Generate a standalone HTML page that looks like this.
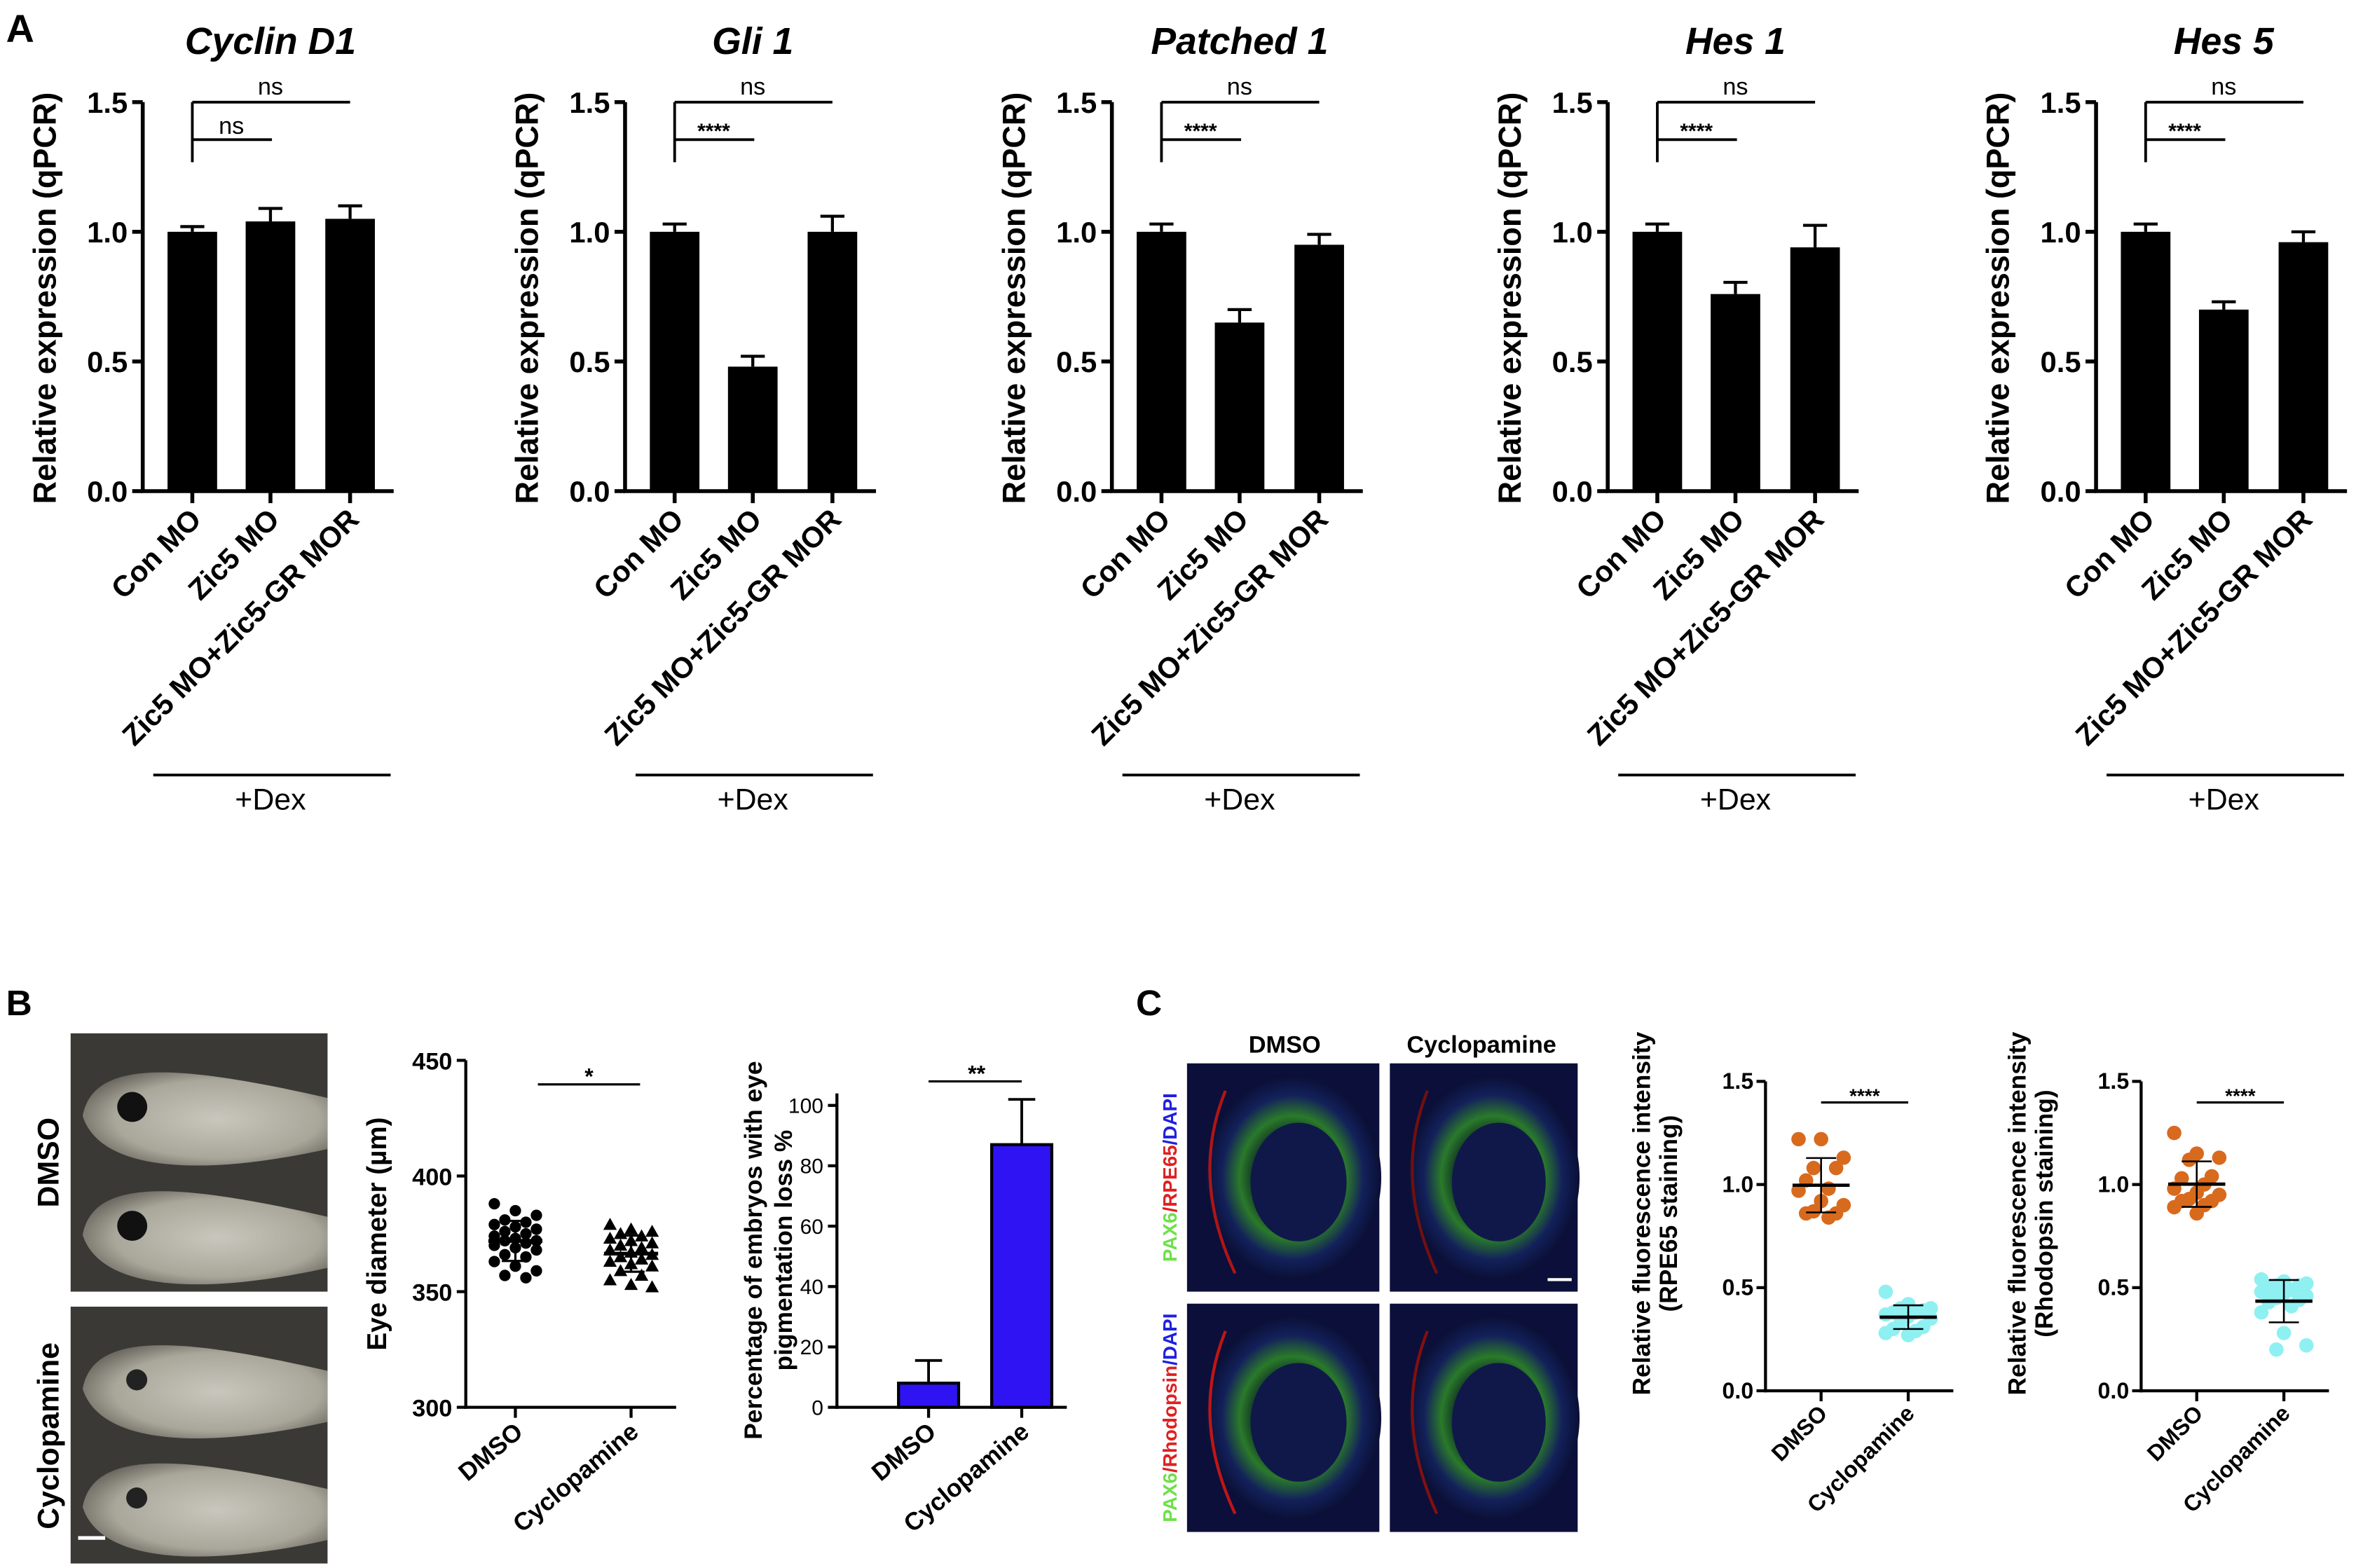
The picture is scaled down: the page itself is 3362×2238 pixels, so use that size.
<!DOCTYPE html>
<html><head><meta charset="utf-8"><style>
html,body{margin:0;padding:0;background:#fff;}
svg{display:block;}
text{font-family:"Liberation Sans",Arial,sans-serif;font-weight:bold;}
</style></head><body>
<svg id="fig" width="3362" height="2238" viewBox="0 0 1568 1044" preserveAspectRatio="none" xmlns="http://www.w3.org/2000/svg">
<defs>
<radialGradient id="tad" cx="0.55" cy="0.5" r="0.6"><stop offset="0" stop-color="#c9c7bd"/><stop offset="0.7" stop-color="#a9a69a"/><stop offset="1" stop-color="#6a675f"/></radialGradient>
<radialGradient id="eyeG" cx="0.5" cy="0.5" r="0.5"><stop offset="0" stop-color="#1a2a6a"/><stop offset="0.45" stop-color="#143a26"/><stop offset="0.6" stop-color="#2a7a2a"/><stop offset="0.8" stop-color="#13215a"/><stop offset="1" stop-color="#0a0f35"/></radialGradient>
</defs>
<text x="4" y="28" font-size="26">A</text>
<text x="4" y="676" font-size="24">B</text>
<text x="756" y="676" font-size="24">C</text>
<g id="panelA"></g>
<g id="panelB"></g>
<g id="panelC"></g>
</svg>
<script>
const NS="http://www.w3.org/2000/svg";
// Panel A data
const geneTitles=["Cyclin D1","Gli 1","Patched 1","Hes 1","Hes 5"];
const groupLabels=["Con MO","Zic5 MO","Zic5 MO+Zic5-GR MOR"];
const meanCyclin=[1.0,1.04,1.05];
const meanGli=[1.0,0.48,1.0];
const meanPatched=[1.0,0.65,0.95];
const meanHes1=[1.0,0.76,0.94];
const meanHes5=[1.0,0.70,0.96];
const errCyclin=[0.02,0.05,0.05];
const errGli=[0.03,0.04,0.06];
const errPatched=[0.03,0.05,0.04];
const errHes1=[0.03,0.045,0.085];
const errHes5=[0.03,0.03,0.04];
const sigLower=["ns","****","****","****","****"];
const sigUpper=["ns","ns","ns","ns","ns"];
const yTicksA=[0,0.5,1.0,1.5];
// Panel B data
const eyeCats=["DMSO","Cyclopamine"];
const eyeDMSO=[388,385,383,381,380,379,378,377,376,375,374,373,372,372,371,370,369,368,366,365,363,361,359,357,356];
const eyeCyclo=[379,377,376,375,374,373,372,371,370,369,368,367,366,365,364,363,362,361,359,357,355,353,352];
const eyeTicks=[300,350,400,450];
const pigCats=["DMSO","Cyclopamine"];
const pigMean=[8,87];
const pigErr=[7.5,15];
const pigTicks=[0,20,40,60,80,100];
// Panel C data
const fluCats=["DMSO","Cyclopamine"];
const rpeDMSO=[1.22,1.22,1.13,1.08,1.08,1.02,0.98,0.97,0.92,0.90,0.87,0.86,0.86,0.84];
const rpeCyclo=[0.48,0.42,0.40,0.40,0.39,0.38,0.38,0.37,0.36,0.35,0.33,0.31,0.30,0.29,0.28,0.27];
const rhoDMSO=[1.25,1.15,1.13,1.12,1.04,1.03,1.00,0.98,0.96,0.95,0.93,0.92,0.92,0.90,0.89,0.86];
const rhoCyclo=[0.54,0.53,0.52,0.51,0.51,0.50,0.49,0.48,0.47,0.46,0.45,0.44,0.43,0.41,0.38,0.28,0.22,0.20];
const fluTicks=[0,0.5,1.0,1.5];

function el(tag,attrs,parent,txt){const e=document.createElementNS(NS,tag);for(const k in attrs)e.setAttribute(k,attrs[k]);if(txt!==undefined)e.textContent=txt;parent.appendChild(e);return e;}
function mean(a){return a.reduce((s,v)=>s+v,0)/a.length;}
function sd(a){const m=mean(a);return Math.sqrt(a.reduce((s,v)=>s+(v-m)*(v-m),0)/(a.length-1));}

// ---------- Panel A ----------
const A=document.getElementById('panelA');
const meansA=[meanCyclin,meanGli,meanPatched,meanHes1,meanHes5];
const errsA=[errCyclin,errGli,errPatched,errHes1,errHes5];
const offs=[0,321,645,975,1300];
geneTitles.forEach((t,i)=>{
  const g=el('g',{transform:`translate(${offs[i]},0)`},A);
  
  
  const ax=95, y0=327, y15=68, xs=[128,180,233];
  const y=v=>y0-(v/1.5)*(y0-y15);
  const tt=el('text',{x:180,y:36,'font-size':25,'font-style':'italic','text-anchor':'middle'},g,t);
  
  
  el('line',{x1:ax,y1:y15,x2:ax,y2:y0+1.2,stroke:'#000','stroke-width':2.6},g);
  el('line',{x1:ax-1.2,y1:y0,x2:262,y2:y0,stroke:'#000','stroke-width':2.6},g);
  yTicksA.forEach(v=>{
    el('line',{x1:ax-7,y1:y(v),x2:ax,y2:y(v),stroke:'#000','stroke-width':2.6},g);
    const tl=el('text',{x:ax-10,y:y(v)+7,'font-size':19.5,'text-anchor':'end'},g,v.toFixed(1));
    
    
  });
  const yt=el('text',{x:0,y:0,'font-size':21,'text-anchor':'middle',transform:`translate(37,${(y0+y15)/2+1}) rotate(-90)`},g,'Relative expression (qPCR)');
  
  
  xs.forEach((x,j)=>{
    const v=meansA[i][j], e=errsA[i][j];
    el('line',{x1:x,y1:y(v),x2:x,y2:y(v+e),stroke:'#000','stroke-width':2},g);
    el('line',{x1:x-8,y1:y(v+e),x2:x+8,y2:y(v+e),stroke:'#000','stroke-width':2},g);
    const b=el('rect',{x:x-16.5,y:y(v),width:33,height:y0-y(v),fill:'#000'},g);
    
    
    el('line',{x1:x,y1:y0,x2:x,y2:y0+8,stroke:'#000','stroke-width':2.6},g);
    const xl=el('text',{x:0,y:0,'font-size':19.5,'text-anchor':'end',transform:`translate(${x+7},${y0+20}) rotate(-45)`},g,groupLabels[j]);
    
    
  });
  el('line',{x1:128,y1:y15,x2:233,y2:y15,stroke:'#000','stroke-width':1.8},g);
  el('line',{x1:128,y1:y15,x2:128,y2:108,stroke:'#000','stroke-width':1.8},g);
  el('line',{x1:128,y1:93,x2:181,y2:93,stroke:'#000','stroke-width':1.8},g);
  const su=el('text',{x:180,y:63,'font-size':16,'text-anchor':'middle',style:'font-weight:normal'},g,sigUpper[i]);
  
  
  const sl=el('text',{x:154,y:sigLower[i]==='ns'?89:92,'font-size':sigLower[i]==='ns'?16:14,'text-anchor':'middle',style:sigLower[i]==='ns'?'font-weight:normal':''},g,sigLower[i]);
  
  
  el('line',{x1:102,y1:516,x2:260,y2:516,stroke:'#000','stroke-width':1.8},g);
  const dx=el('text',{x:180,y:539,'font-size':20,'text-anchor':'middle',style:'font-weight:normal'},g,'+Dex');
  
  
});

// ---------- Panel B ----------
const B=document.getElementById('panelB');
function tadpole(x,y,w,h,name){
  const g=el('g',{},B);
  
  
  el('rect',{x,y,width:w,height:h,fill:'#3a3935'},g);
  [[0.32],[0.78]].forEach(([fy])=>{
    el('path',{d:`M${x+8} ${y+h*fy} C ${x+15} ${y+h*fy-38}, ${x+70} ${y+h*fy-35}, ${x+w} ${y+h*fy-12} L ${x+w} ${y+h*fy+22} C ${x+90} ${y+h*fy+40}, ${x+20} ${y+h*fy+38}, ${x+8} ${y+h*fy}Z`,fill:'url(#tad)'},g);
  });
  return g;
}
const t1=tadpole(47,688,171,172,'dmso-embryo-image');
el('circle',{cx:88,cy:688+172*0.32-6,r:10,fill:'#111'},t1);
el('circle',{cx:88,cy:688+172*0.78-6,r:10,fill:'#111'},t1);
const t2=tadpole(47,870,171,171,'cyclopamine-embryo-image');
el('circle',{cx:91,cy:870+171*0.32-6,r:7,fill:'#222'},t2);
el('circle',{cx:91,cy:870+171*0.78-6,r:7,fill:'#222'},t2);
el('line',{x1:52,y1:1024,x2:70,y2:1024,stroke:'#fff','stroke-width':2.5},B);
let tx=el('text',{x:0,y:0,'font-size':20,'text-anchor':'middle',transform:'translate(39,774) rotate(-90)'},B,'DMSO');


tx=el('text',{x:0,y:0,'font-size':20,'text-anchor':'middle',transform:'translate(39,956) rotate(-90)'},B,'Cyclopamine');



// eye diameter scatter
(function(){
  const g=el('g',{},B);
  
  
  const ax=310,y0=937,yT=706,xs=[343,420];
  const y=v=>y0-(v-300)/150*(y0-yT);
  el('line',{x1:ax,y1:yT,x2:ax,y2:y0+1,stroke:'#000','stroke-width':2},g);
  el('line',{x1:ax-1,y1:y0,x2:450,y2:y0,stroke:'#000','stroke-width':2},g);
  eyeTicks.forEach(v=>{
    el('line',{x1:ax-6,y1:y(v),x2:ax,y2:y(v),stroke:'#000','stroke-width':2},g);
    const tl=el('text',{x:ax-9,y:y(v)+6,'font-size':16,'text-anchor':'end'},g,String(v));
    
    
  });
  const yt=el('text',{x:0,y:0,'font-size':18,'text-anchor':'middle',transform:`translate(257,${(y0+yT)/2}) rotate(-90)`},g,'Eye diameter (µm)');
  
  
  [eyeDMSO,eyeCyclo].forEach((arr,j)=>{
    const cx=xs[j];
    arr.forEach((v,k)=>{
      const dx=((k*7)%5-2)*7;
      let p;
      if(j===0) p=el('circle',{cx:cx+dx,cy:y(v),r:3.8,fill:'#000'},g);
      else p=el('path',{d:`M${cx+dx} ${y(v)-4.5} l4.5 8 h-9Z`,fill:'#000'},g);
      
      
    });
    const m=mean(arr),s=sd(arr);
    el('line',{x1:cx-18,y1:y(m),x2:cx+18,y2:y(m),stroke:'#000','stroke-width':2.5},g);
    el('line',{x1:cx,y1:y(m-s),x2:cx,y2:y(m+s),stroke:'#000','stroke-width':1.5},g);
    el('line',{x1:cx-9,y1:y(m+s),x2:cx+9,y2:y(m+s),stroke:'#000','stroke-width':1.5},g);
    el('line',{x1:cx-9,y1:y(m-s),x2:cx+9,y2:y(m-s),stroke:'#000','stroke-width':1.5},g);
    el('line',{x1:cx,y1:y0,x2:cx,y2:y0+7,stroke:'#000','stroke-width':2},g);
    const xl=el('text',{x:0,y:0,'font-size':16.5,'text-anchor':'end',transform:`translate(${cx+6},${y0+18}) rotate(-40)`},g,eyeCats[j]);
    
    
  });
  el('line',{x1:358,y1:722,x2:426,y2:722,stroke:'#000','stroke-width':1.5},g);
  const s=el('text',{x:392,y:722,'font-size':15,'text-anchor':'middle'},g,'*');
  
  
})();

// pigmentation bar chart
(function(){
  const g=el('g',{},B);
  
  
  const ax=557,y0=937,yT=736,xs=[618,680];
  const y=v=>y0-v/100*(y0-yT);
  pigCats.forEach((c,j)=>{
    const cx=xs[j],v=pigMean[j],e=pigErr[j];
    el('line',{x1:cx,y1:y(v),x2:cx,y2:y(v+e),stroke:'#000','stroke-width':1.8},g);
    el('line',{x1:cx-9,y1:y(v+e),x2:cx+9,y2:y(v+e),stroke:'#000','stroke-width':1.8},g);
    const b=el('rect',{x:cx-20,y:y(v),width:40,height:y0-y(v),fill:'#2f13f2',stroke:'#000','stroke-width':2},g);
    
    
    el('line',{x1:cx,y1:y0,x2:cx,y2:y0+7,stroke:'#000','stroke-width':2},g);
    const xl=el('text',{x:0,y:0,'font-size':16.5,'text-anchor':'end',transform:`translate(${cx+6},${y0+18}) rotate(-40)`},g,c);
    
    
  });
  el('line',{x1:ax,y1:728,x2:ax,y2:y0+1,stroke:'#000','stroke-width':2},g);
  el('line',{x1:ax-1,y1:y0,x2:710,y2:y0,stroke:'#000','stroke-width':2},g);
  pigTicks.forEach(v=>{
    el('line',{x1:ax-6,y1:y(v),x2:ax,y2:y(v),stroke:'#000','stroke-width':2},g);
    const tl=el('text',{x:ax-9,y:y(v)+5,'font-size':14,'text-anchor':'end',style:'font-weight:normal'},g,String(v));
    
    
  });
  let t=el('text',{x:0,y:0,'font-size':16.5,'text-anchor':'middle',transform:`translate(507,${(y0+728)/2}) rotate(-90)`},g,'Percentage of embryos with eye');
  
  
  t=el('text',{x:0,y:0,'font-size':16.5,'text-anchor':'middle',transform:`translate(527,${(y0+728)/2}) rotate(-90)`},g,'pigmentation loss %');
  
  
  el('line',{x1:618,y1:720,x2:680,y2:720,stroke:'#000','stroke-width':1.5},g);
  const s=el('text',{x:650,y:720,'font-size':15,'text-anchor':'middle'},g,'**');
  
  
})();

// ---------- Panel C ----------
const C=document.getElementById('panelC');
function micro(x,y,w,h,name,red){
  const g=el('g',{},C);
  
  
  el('rect',{x,y,width:w,height:h,fill:'#0b0f3a'},g);
  el('ellipse',{cx:x+w*0.55,cy:y+h*0.5,rx:w*0.46,ry:h*0.45,fill:'url(#eyeG)'},g);
  el('ellipse',{cx:x+w*0.58,cy:y+h*0.52,rx:w*0.25,ry:h*0.26,fill:'#10184a'},g);
  el('path',{d:`M${x+w*0.2} ${y+h*0.12} Q ${x+2} ${y+h*0.5} ${x+w*0.25} ${y+h*0.92}`,stroke:red,'stroke-width':2,fill:'none'},g);
}
micro(790,708,128,152,'image-dmso-rpe65','#b01515');
micro(925,708,125,152,'image-cyclopamine-rpe65','#701010');
micro(790,868,128,152,'image-dmso-rhodopsin','#c01515');
micro(925,868,125,152,'image-cyclopamine-rhodopsin','#801010');
el('line',{x1:1030,y1:852,x2:1046,y2:852,stroke:'#fff','stroke-width':2},C);
tx=el('text',{x:855,y:701,'font-size':16,'text-anchor':'middle'},C,'DMSO');


tx=el('text',{x:986,y:701,'font-size':16,'text-anchor':'middle'},C,'Cyclopamine');


function stainLabel(cy,mid,name){
  const t=el('text',{x:0,y:0,'font-size':13,'text-anchor':'middle',transform:`translate(783,${cy}) rotate(-90)`},C);
  
  
  el('tspan',{fill:'#6fe04a'},t,'PAX6');
  el('tspan',{fill:'#e02020'},t,'/'+mid);
  el('tspan',{fill:'#2020e0'},t,'/DAPI');
}
stainLabel(784,'RPE65','stain-label-rpe65');
stainLabel(944,'Rhodopsin','stain-label-rhodopsin');

function fluChart(ax,d1,d2,line2,name){
  const g=el('g',{},C);
  
  
  const y0=926,yT=720,xs=[ax+37,ax+95];
  const y=v=>y0-v/1.5*(y0-yT);
  el('line',{x1:ax,y1:yT,x2:ax,y2:y0+1,stroke:'#000','stroke-width':2},g);
  el('line',{x1:ax-1,y1:y0,x2:ax+125,y2:y0,stroke:'#000','stroke-width':2},g);
  fluTicks.forEach(v=>{
    el('line',{x1:ax-6,y1:y(v),x2:ax,y2:y(v),stroke:'#000','stroke-width':2},g);
    const tl=el('text',{x:ax-8,y:y(v)+5,'font-size':15,'text-anchor':'end'},g,v.toFixed(1));
    
    
  });
  let t=el('text',{x:0,y:0,'font-size':16.5,'text-anchor':'middle',transform:`translate(${ax-77},808) rotate(-90)`},g,'Relative fluorescence intensity');
  
  
  t=el('text',{x:0,y:0,'font-size':16.5,'text-anchor':'middle',transform:`translate(${ax-59},808) rotate(-90)`},g,line2);
  
  
  const cols=['#d86a1e','#8ff0f2'];
  [d1,d2].forEach((arr,j)=>{
    const cx=xs[j];
    arr.forEach((v,k)=>{
      const dx=((k*3)%7-3)*5;
      const p=el('circle',{cx:cx+dx,cy:y(v),r:4.8,fill:cols[j]},g);
      
      
    });
    const m=mean(arr),s=sd(arr);
    el('line',{x1:cx-19,y1:y(m),x2:cx+19,y2:y(m),stroke:'#000','stroke-width':2.2},g);
    el('line',{x1:cx,y1:y(m-s),x2:cx,y2:y(m+s),stroke:'#000','stroke-width':1.2},g);
    el('line',{x1:cx-10,y1:y(m+s),x2:cx+10,y2:y(m+s),stroke:'#000','stroke-width':1.2},g);
    el('line',{x1:cx-10,y1:y(m-s),x2:cx+10,y2:y(m-s),stroke:'#000','stroke-width':1.2},g);
    el('line',{x1:cx,y1:y0,x2:cx,y2:y0+7,stroke:'#000','stroke-width':2},g);
    const xl=el('text',{x:0,y:0,'font-size':15,'text-anchor':'end',transform:`translate(${cx+5},${y0+16}) rotate(-45)`},g,fluCats[j]);
    
    
  });
  el('line',{x1:xs[0],y1:734,x2:xs[1],y2:734,stroke:'#000','stroke-width':1.5},g);
  const s=el('text',{x:(xs[0]+xs[1])/2,y:734,'font-size':13,'text-anchor':'middle'},g,'****');
  
  
}
fluChart(1175,rpeDMSO,rpeCyclo,'(RPE65 staining)','rpe65-fluorescence-chart');
fluChart(1425,rhoDMSO,rhoCyclo,'(Rhodopsin staining)','rhodopsin-fluorescence-chart');
</script>
</body></html>
